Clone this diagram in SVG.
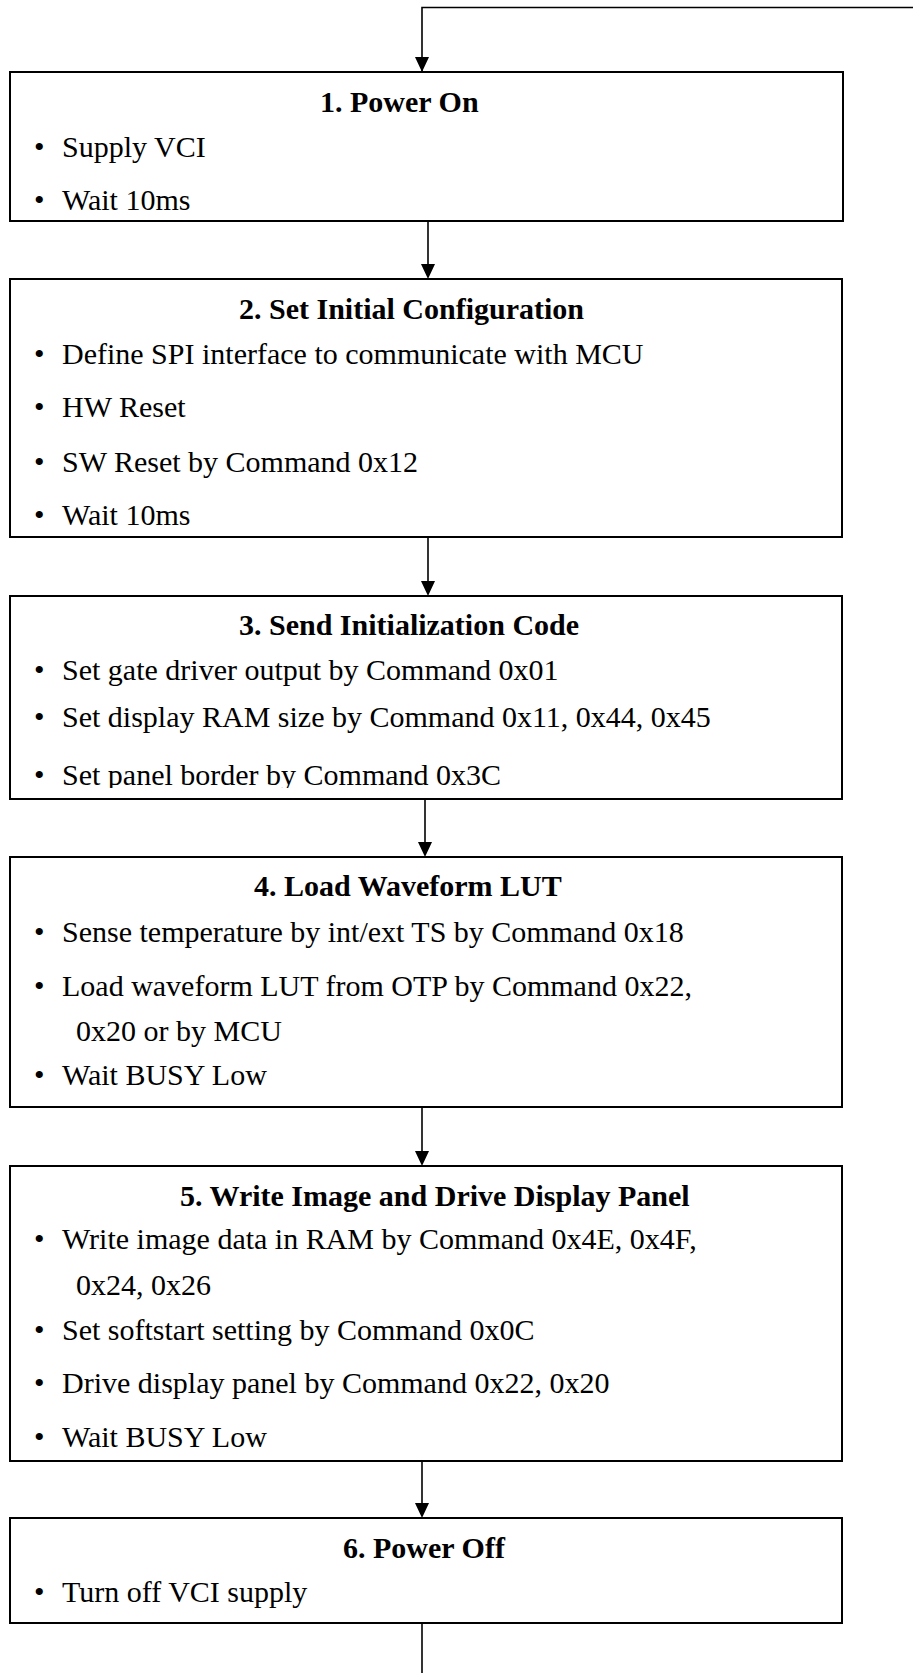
<svg xmlns="http://www.w3.org/2000/svg" width="913" height="1673" viewBox="0 0 913 1673">
<style>
.box{fill:#fff;stroke:#000;stroke-width:2}
.t{font-family:"Liberation Serif","Times New Roman",serif;font-size:30px;font-weight:bold;fill:#000}
.b{font-family:"Liberation Serif","Times New Roman",serif;font-size:30px;fill:#000}
.c{fill:none;stroke:#000;stroke-width:1.6}
</style>
<defs>
<marker id="ah" viewBox="0 0 14 15" refX="7" refY="15" markerWidth="14" markerHeight="15" markerUnits="userSpaceOnUse" orient="auto-start-reverse">
<path d="M0,0 L14,0 L7,15 Z" fill="#000"/>
</marker>
<clipPath id="clip3"><rect x="10" y="596" width="832" height="192"/></clipPath>
</defs>
<rect width="913" height="1673" fill="#fff"/>
<g id="connectors">
<path class="c" d="M913,7.5 H422 V71"/>
<path d="M415,57 L429,57 L422,72 Z" fill="#000"/>
<path class="c" d="M428,221 V265"/>
<path d="M421,264 L435,264 L428,279 Z" fill="#000"/>
<path class="c" d="M428,537 V582"/>
<path d="M421,581 L435,581 L428,596 Z" fill="#000"/>
<path class="c" d="M425,799 V843"/>
<path d="M418,842 L432,842 L425,857 Z" fill="#000"/>
<path class="c" d="M422,1107 V1152"/>
<path d="M415,1151 L429,1151 L422,1166 Z" fill="#000"/>
<path class="c" d="M422,1461 V1504"/>
<path d="M415,1503 L429,1503 L422,1518 Z" fill="#000"/>
<path class="c" d="M422,1623 V1673"/>
</g>
<g id="node1">
<rect class="box" x="10" y="72" width="833" height="149"/>
<text class="t" x="320" y="112">1. Power On</text>
<text class="b" x="34" y="157">•</text><text class="b" x="62" y="157">Supply VCI</text>
<text class="b" x="34" y="210">•</text><text class="b" x="62" y="210">Wait 10ms</text>
</g>
<g id="node2">
<rect class="box" x="10" y="279" width="832" height="258"/>
<text class="t" x="239" y="319">2. Set Initial Configuration</text>
<text class="b" x="34" y="364">•</text><text class="b" x="62" y="364">Define SPI interface to communicate with MCU</text>
<text class="b" x="34" y="417">•</text><text class="b" x="62" y="417">HW Reset</text>
<text class="b" x="34" y="472">•</text><text class="b" x="62" y="472">SW Reset by Command 0x12</text>
<text class="b" x="34" y="525">•</text><text class="b" x="62" y="525">Wait 10ms</text>
</g>
<g id="node3">
<rect class="box" x="10" y="596" width="832" height="203"/>
<text class="t" x="239" y="635">3. Send Initialization Code</text>
<text class="b" x="34" y="680">•</text><text class="b" x="62" y="680">Set gate driver output by Command 0x01</text>
<text class="b" x="34" y="727">•</text><text class="b" x="62" y="727">Set display RAM size by Command 0x11, 0x44, 0x45</text>
<g clip-path="url(#clip3)">
<text class="b" x="34" y="785">•</text><text class="b" x="62" y="785">Set panel border by Command 0x3C</text>
</g>
</g>
<g id="node4">
<rect class="box" x="10" y="857" width="832" height="250"/>
<text class="t" x="254" y="896">4. Load Waveform LUT</text>
<text class="b" x="34" y="942">•</text><text class="b" x="62" y="942">Sense temperature by int/ext TS by Command 0x18</text>
<text class="b" x="34" y="996">•</text><text class="b" x="62" y="996">Load waveform LUT from OTP by Command 0x22,</text>
<text class="b" x="76" y="1041">0x20 or by MCU</text>
<text class="b" x="34" y="1085">•</text><text class="b" x="62" y="1085">Wait BUSY Low</text>
</g>
<g id="node5">
<rect class="box" x="10" y="1166" width="832" height="295"/>
<text class="t" x="180" y="1206">5. Write Image and Drive Display Panel</text>
<text class="b" x="34" y="1249">•</text><text class="b" x="62" y="1249">Write image data in RAM by Command 0x4E, 0x4F,</text>
<text class="b" x="76" y="1295">0x24, 0x26</text>
<text class="b" x="34" y="1340">•</text><text class="b" x="62" y="1340">Set softstart setting by Command 0x0C</text>
<text class="b" x="34" y="1393">•</text><text class="b" x="62" y="1393">Drive display panel by Command 0x22, 0x20</text>
<text class="b" x="34" y="1447">•</text><text class="b" x="62" y="1447">Wait BUSY Low</text>
</g>
<g id="node6">
<rect class="box" x="10" y="1518" width="832" height="105"/>
<text class="t" x="343" y="1558">6. Power Off</text>
<text class="b" x="34" y="1602">•</text><text class="b" x="62" y="1602">Turn off VCI supply</text>
</g>
</svg>
